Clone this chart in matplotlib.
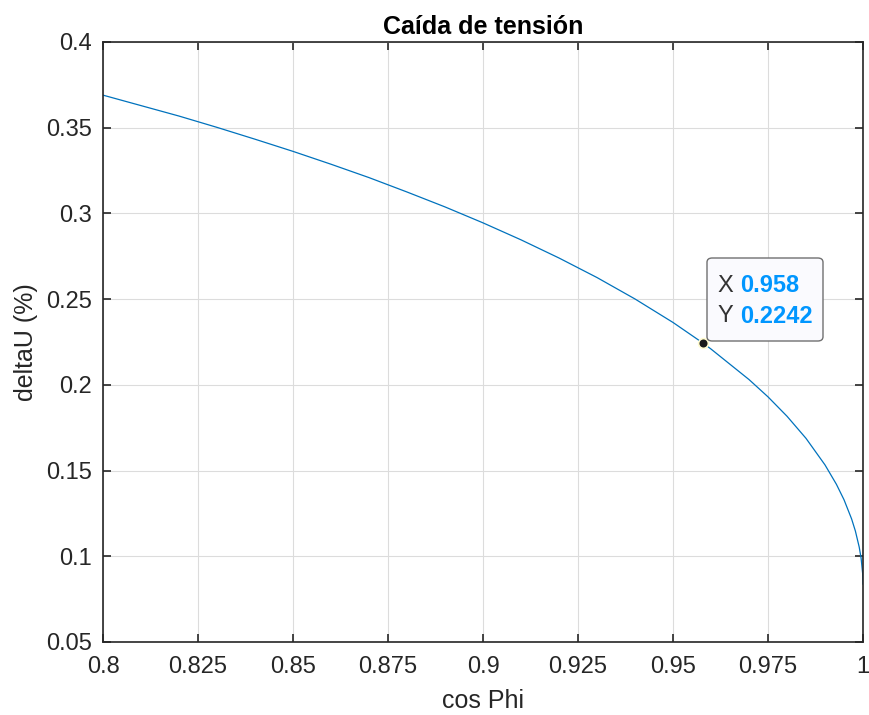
import numpy as np
import matplotlib
matplotlib.use("Agg")
import matplotlib.pyplot as plt

plt.rcParams['font.family'] = ['Liberation Sans', 'DejaVu Sans']

# values
cos_phi = [0.80, 0.81, 0.82, 0.83, 0.84, 0.85, 0.86, 0.87, 0.88, 0.89, 0.90,
           0.91, 0.92, 0.93, 0.94, 0.95, 0.958, 0.96, 0.97, 0.975, 0.98, 0.985,
           0.99, 0.993, 0.995, 0.997, 0.998, 0.999, 0.9995, 0.9999, 1.0]
delta_u = [0.369, 0.3629, 0.3568, 0.3502, 0.3433, 0.3362, 0.3287, 0.3209, 0.3125,
           0.3038, 0.2945, 0.2846, 0.2740, 0.2626, 0.2501, 0.2364, 0.2242, 0.2209,
           0.2031, 0.1930, 0.1817, 0.1688, 0.1533, 0.1420, 0.1330, 0.1218, 0.1147,
           0.1054, 0.0989, 0.0901, 0.0838]

tip_x = 0.958
tip_y = 0.2242

xticks = [0.8, 0.825, 0.85, 0.875, 0.9, 0.925, 0.95, 0.975, 1]
xlabels = ['0.8', '0.825', '0.85', '0.875', '0.9', '0.925', '0.95', '0.975', '1']
yticks = [0.05, 0.1, 0.15, 0.2, 0.25, 0.3, 0.35, 0.4]
ylabels = ['0.05', '0.1', '0.15', '0.2', '0.25', '0.3', '0.35', '0.4']

fig = plt.figure(figsize=(8.69, 7.15), dpi=100)
ax = fig.add_axes([103/869, 73/715, 760/869, 600/715])

ax.plot(cos_phi, delta_u, color='#0072BD', lw=0.9)
ax.set_xlim(0.8, 1)
ax.set_ylim(0.05, 0.4)
ax.set_xticks(xticks)
ax.set_xticklabels(xlabels)
ax.set_yticks(yticks)
ax.set_yticklabels(ylabels)
ax.grid(True, color='#dcdcdc', lw=0.8)
ax.set_axisbelow(True)
ax.tick_params(direction='in', length=6, width=1.2, colors='#262626',
               labelsize=17, top=True, right=True)
ax.tick_params(axis='x', pad=10)
ax.tick_params(axis='y', pad=8)
ax.tick_params(labeltop=False, labelright=False)
for s in ax.spines.values():
    s.set_color('#262626')
    s.set_linewidth(1.2)

ax.set_title('Caída de tensión', fontsize=18, fontweight='bold', color='black', pad=6)
ax.set_xlabel('cos Phi', fontsize=18, color='#262626', labelpad=8)
ax.set_ylabel('deltaU (%)', fontsize=18, color='#262626', labelpad=6)

# data tip
ax.plot([tip_x], [tip_y], 'o', ms=7, mfc='#1a1a1a', mec='#fffbd0', mew=1.2, zorder=5)
box = matplotlib.patches.FancyBboxPatch((707/869, (715-341)/715), 116/869, 83/715,
                                        boxstyle='round,pad=0,rounding_size=0.006',
                                        transform=fig.transFigure, fc='#fafafe',
                                        ec='#707070', lw=1.0, zorder=6)
fig.patches.append(box)
fig.text(717/869, (715-286)/715, 'X', fontsize=17, color='#333333', va='center', zorder=7)
fig.text(740/869, (715-286)/715, '%g' % tip_x, fontsize=17, color='#0096FF',
         fontweight='bold', va='center', zorder=7)
fig.text(717/869, (715-316)/715, 'Y', fontsize=17, color='#333333', va='center', zorder=7)
fig.text(740/869, (715-316)/715, '%g' % tip_y, fontsize=17, color='#0096FF',
         fontweight='bold', va='center', zorder=7)

fig.savefig('out.png', dpi=100, facecolor='white')
